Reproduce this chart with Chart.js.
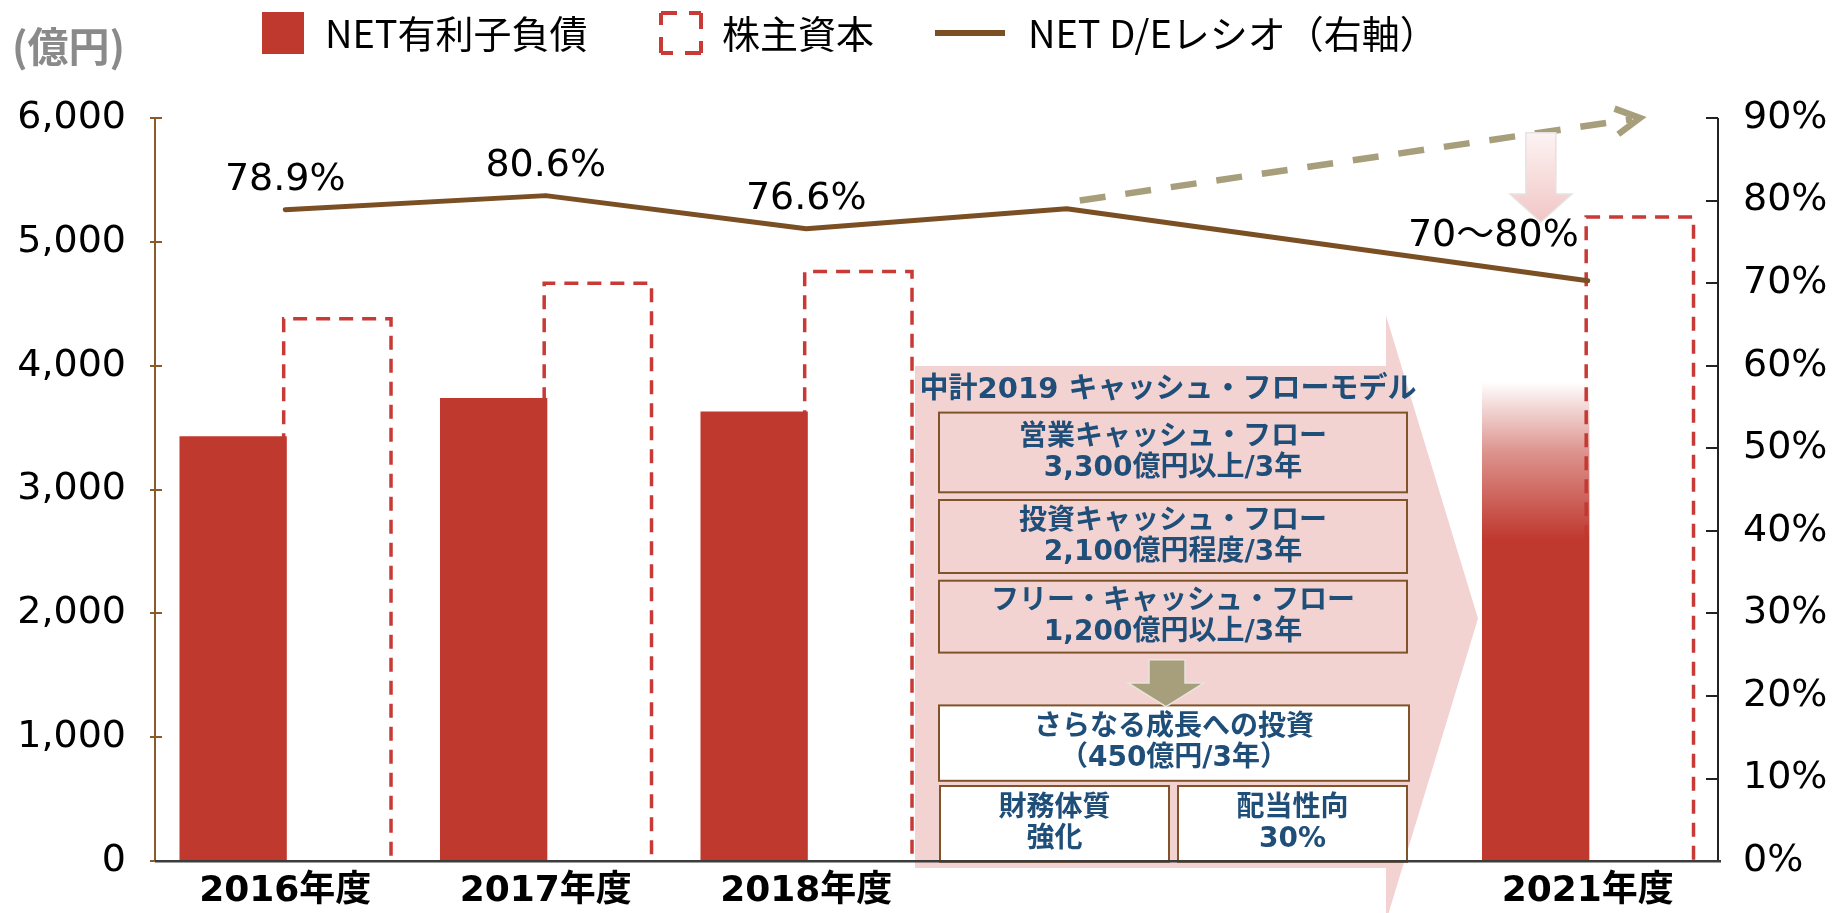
<!DOCTYPE html>
<html lang="ja">
<head>
<meta charset="utf-8">
<title>NET有利子負債・株主資本・NET D/Eレシオ</title>
<script src="https://cdn.jsdelivr.net/npm/chart.js"></script>
<style>
  html, body { margin: 0; padding: 0; background: #fff; }
  #wrap { width: 1833px; height: 913px; }
</style>
</head>
<body>
<div id="wrap"><canvas id="myChart" width="1833" height="913"></canvas></div>
<script>
const categories = ["2016年度", "2017年度", "2018年度", "", "", "2021年度"];
const netDebt = [3430, 3740, 3630, null, null, 3870];
const equity = [4380, 4665, 4760, null, null, 5200];
const deRatio = [78.9, 80.6, 76.6, 79.0, null, 70.3];
const deLabels = ["78.9%", "80.6%", "76.6%", "", "", "70～80%"];
const seriesNames = ["NET有利子負債", "株主資本", "NET D/Eレシオ（右軸）"];
const leftTicks = [0, 1000, 2000, 3000, 4000, 5000, 6000];
const rightTicks = [0, 10, 20, 30, 40, 50, 60, 70, 80, 90];

// the 2021 bar fades out between these two values
const fadeRange = [3870, 2600];
// dashed trend arrow, [category index, ratio %]
const trendFrom = [3.05, 80];
const trendTo = [5.2, 90];
// small pink arrow over 2021, [category index, top %, tip %]
const targetArrow = [4.82, 88.2, 77.4];

const panelTitle = "中計2019 キャッシュ・フローモデル";
const panelBoxes = [
  ["営業キャッシュ・フロー", "3,300億円以上/3年"],
  ["投資キャッシュ・フロー", "2,100億円程度/3年"],
  ["フリー・キャッシュ・フロー", "1,200億円以上/3年"],
  ["さらなる成長への投資", "（450億円/3年）"],
  ["財務体質", "強化"],
  ["配当性向", "30%"]
];

const RED = "#c0392f";
const DASH_RED = "#c83a35";
const BROWN = "#7b4f24";
const KHAKI = "#a79e7c";
const PINK = "#f2d3d2";
const NAVY = "#1f4e79";
const BOX_LINE = "#80532a";
const NUM_FONT = '"DejaVu Sans", "Noto Sans CJK JP", sans-serif';
const JP_FONT = '"Noto Sans CJK JP", sans-serif';

let myChart;

const fadeFill = (ctx) => {
  const chart = ctx.chart;
  if (ctx.dataIndex !== 5 || !chart.chartArea) return RED;
  const y = chart.scales.y;
  const g = chart.ctx.createLinearGradient(0, y.getPixelForValue(fadeRange[0]), 0, y.getPixelForValue(fadeRange[1]));
  g.addColorStop(0, "rgba(192,57,47,0)");
  g.addColorStop(0.45, "rgba(192,57,47,0.55)");
  g.addColorStop(1, "rgba(192,57,47,1)");
  return g;
};

const drawPanel = (ctx) => {
  // big pink chevron arrow
  const p = { left: 915, right: 1386, top: 366, bottom: 868, headTop: 315.6, tipX: 1478, tipY: 618.6 };
  ctx.save();
  ctx.fillStyle = PINK;
  ctx.beginPath();
  ctx.moveTo(p.left, p.top);
  ctx.lineTo(p.right, p.top);
  ctx.lineTo(p.right, p.headTop);
  ctx.lineTo(p.tipX, p.tipY);
  ctx.lineTo(p.right, 2 * p.tipY - p.headTop);
  ctx.lineTo(p.right, p.bottom);
  ctx.lineTo(p.left, p.bottom);
  ctx.closePath();
  ctx.fill();
  ctx.restore();
};

const drawPanelText = (ctx) => {
  const rects = [
    [939, 412.6, 1407, 492.3, null],
    [939, 500, 1407, 573, null],
    [939, 580.7, 1407, 652.6, null],
    [939, 705.4, 1409, 780.8, "#fff"],
    [940, 786, 1169, 861.8, "#fff"],
    [1178, 786, 1407, 861.8, "#fff"]
  ];
  ctx.save();
  ctx.fillStyle = NAVY;
  ctx.textAlign = "center";
  ctx.textBaseline = "middle";
  ctx.font = "bold 29px " + NUM_FONT;
  ctx.fillText(panelTitle, 1168, 390);

  ctx.font = "bold 28px " + NUM_FONT;
  rects.forEach((r, i) => {
    if (r[4]) {
      ctx.fillStyle = r[4];
      ctx.fillRect(r[0], r[1], r[2] - r[0], r[3] - r[1]);
    }
    ctx.strokeStyle = BOX_LINE;
    ctx.lineWidth = 2;
    ctx.strokeRect(r[0], r[1], r[2] - r[0], r[3] - r[1]);
    const cx = (r[0] + r[2]) / 2;
    const cy = (r[1] + r[3]) / 2;
    ctx.fillStyle = NAVY;
    ctx.fillText(panelBoxes[i][0], cx, cy - 15);
    ctx.fillText(panelBoxes[i][1], cx, cy + 16);
  });

  // small khaki down arrow
  ctx.fillStyle = KHAKI;
  ctx.strokeStyle = "#e9e4dc";
  ctx.lineWidth = 1.5;
  ctx.beginPath();
  ctx.moveTo(1149, 659.7);
  ctx.lineTo(1185, 659.7);
  ctx.lineTo(1185, 683);
  ctx.lineTo(1204, 683);
  ctx.lineTo(1166, 706.6);
  ctx.lineTo(1128, 683);
  ctx.lineTo(1149, 683);
  ctx.closePath();
  ctx.fill();
  ctx.stroke();
  ctx.restore();
};

const drawDashedBars = (chart) => {
  const ctx = chart.ctx;
  const meta = chart.getDatasetMeta(1);
  ctx.save();
  ctx.strokeStyle = DASH_RED;
  ctx.lineWidth = 3.5;
  ctx.setLineDash([14, 9]);
  meta.data.forEach((el, i) => {
    if (equity[i] === null) return;
    const left = el.x - el.width / 2;
    const right = el.x + el.width / 2;
    ctx.beginPath();
    ctx.moveTo(left, el.base);
    ctx.lineTo(left, el.y);
    ctx.lineTo(right, el.y);
    ctx.lineTo(right, el.base);
    ctx.stroke();
  });
  ctx.restore();
};

const drawAxes = (chart) => {
  const ctx = chart.ctx;
  const area = chart.chartArea;
  const y = chart.scales.y;
  const y1 = chart.scales.y1;
  ctx.save();
  ctx.lineWidth = 2;
  ctx.strokeStyle = "#8b5a2b";
  ctx.beginPath();
  ctx.moveTo(area.left, area.top);
  ctx.lineTo(area.left, area.bottom);
  leftTicks.forEach((v) => {
    const py = Math.round(y.getPixelForValue(v));
    ctx.moveTo(area.left - 5, py);
    ctx.lineTo(area.left + 7, py);
  });
  ctx.stroke();

  ctx.strokeStyle = "#222";
  ctx.beginPath();
  ctx.moveTo(area.right, area.top);
  ctx.lineTo(area.right, area.bottom);
  rightTicks.forEach((v) => {
    const py = Math.round(y1.getPixelForValue(v));
    ctx.moveTo(area.right - 12, py);
    ctx.lineTo(area.right, py);
  });
  ctx.stroke();

  ctx.strokeStyle = "#3c3c3c";
  ctx.lineWidth = 2.5;
  ctx.beginPath();
  ctx.moveTo(area.left, area.bottom);
  ctx.lineTo(area.right + 3, area.bottom);
  ctx.stroke();
  ctx.restore();
};

const drawRatioLabels = (chart) => {
  const ctx = chart.ctx;
  const meta = chart.getDatasetMeta(2);
  ctx.save();
  ctx.fillStyle = "#000";
  ctx.font = "38px " + NUM_FONT;
  ctx.textBaseline = "alphabetic";
  meta.data.forEach((pt, i) => {
    if (!deLabels[i] || deRatio[i] === null) return;
    if (i === 5) {
      ctx.textAlign = "right";
      ctx.fillText(deLabels[i], pt.x - 9, pt.y - 35);
    } else {
      ctx.textAlign = "center";
      ctx.fillText(deLabels[i], pt.x, pt.y - 20);
    }
  });
  ctx.restore();
};

const drawTrendArrows = (chart) => {
  const ctx = chart.ctx;
  const x = chart.scales.x;
  const y1 = chart.scales.y1;
  const x0 = x.getPixelForValue(trendFrom[0]);
  const yA = y1.getPixelForValue(trendFrom[1]);
  const x1 = x.getPixelForValue(trendTo[0]);
  const yB = y1.getPixelForValue(trendTo[1]);
  const ang = Math.atan2(yB - yA, x1 - x0);
  ctx.save();
  ctx.strokeStyle = KHAKI;
  ctx.lineWidth = 6.5;
  ctx.setLineDash([26, 20]);
  ctx.beginPath();
  ctx.moveTo(x0, yA);
  ctx.lineTo(x1 - 8 * Math.cos(ang), yB - 8 * Math.sin(ang));
  ctx.stroke();
  ctx.setLineDash([]);
  ctx.lineJoin = "miter";
  ctx.beginPath();
  ctx.moveTo(x1 - 27 * Math.cos(ang - 0.5), yB - 27 * Math.sin(ang - 0.5));
  ctx.lineTo(x1, yB);
  ctx.lineTo(x1 - 27 * Math.cos(ang + 0.5), yB - 27 * Math.sin(ang + 0.5));
  ctx.stroke();

  // pink arrow pointing down to the 2021 target
  const cx = x.getPixelForValue(targetArrow[0]);
  const top = y1.getPixelForValue(targetArrow[1]);
  const tip = y1.getPixelForValue(targetArrow[2]);
  const neck = tip - 28;
  const g = ctx.createLinearGradient(0, top, 0, tip);
  g.addColorStop(0, "#fdf3f3");
  g.addColorStop(1, "#f1c6c5");
  ctx.fillStyle = g;
  ctx.strokeStyle = "#e6e2e2";
  ctx.lineWidth = 1.5;
  ctx.beginPath();
  ctx.moveTo(cx - 15, top);
  ctx.lineTo(cx + 15, top);
  ctx.lineTo(cx + 15, neck);
  ctx.lineTo(cx + 31, neck);
  ctx.lineTo(cx, tip);
  ctx.lineTo(cx - 31, neck);
  ctx.lineTo(cx - 15, neck);
  ctx.closePath();
  ctx.fill();
  ctx.stroke();
  ctx.restore();
};

const drawLegend = (chart) => {
  const ctx = chart.ctx;
  const ds = chart.data.datasets;
  ctx.save();
  ctx.textBaseline = "middle";
  ctx.font = "bold 41px " + JP_FONT;
  ctx.fillStyle = "#8a8a8a";
  ctx.textAlign = "left";
  ctx.fillText("(億円)", 12, 46);

  ctx.font = "38px " + JP_FONT;
  // filled box
  ctx.fillStyle = RED;
  ctx.fillRect(262, 12, 42, 42);
  ctx.fillStyle = "#000";
  ctx.fillText(ds[0].label, 325, 34);
  // dashed box, each side drawn from its corner
  ctx.strokeStyle = DASH_RED;
  ctx.lineWidth = 4;
  ctx.setLineDash([16, 12]);
  const bx = 661, by = 13, bs = 40;
  [[bx, by, bx + bs, by], [bx + bs, by, bx + bs, by + bs], [bx + bs, by + bs, bx, by + bs], [bx, by + bs, bx, by]]
    .forEach((s) => {
      ctx.beginPath();
      ctx.moveTo(s[0], s[1]);
      ctx.lineTo(s[2], s[3]);
      ctx.stroke();
    });
  ctx.setLineDash([]);
  ctx.fillText(ds[1].label, 722, 34);
  // line
  ctx.strokeStyle = BROWN;
  ctx.lineWidth = 6;
  ctx.beginPath();
  ctx.moveTo(935, 33);
  ctx.lineTo(1005, 33);
  ctx.stroke();
  ctx.fillText(ds[2].label, 1028, 34);
  ctx.restore();
};

const decorPlugin = {
  id: "decor",
  beforeDatasetsDraw(chart) {
    drawPanel(chart.ctx);
    drawDashedBars(chart);
  },
  afterDatasetsDraw(chart) {
    drawPanelText(chart.ctx);
    drawRatioLabels(chart);
    drawTrendArrows(chart);
    drawAxes(chart);
  },
  afterDraw(chart) {
    drawLegend(chart);
  }
};

const displayChart = () => {
  const ctx = document.getElementById("myChart").getContext("2d");
  myChart = new Chart(ctx, {
    type: "bar",
    data: {
      labels: categories,
      datasets: [
        {
          label: seriesNames[0],
          data: netDebt,
          backgroundColor: fadeFill,
          borderWidth: 0,
          yAxisID: "y",
          order: 1
        },
        {
          label: seriesNames[1],
          data: equity,
          backgroundColor: "rgba(0,0,0,0)",
          borderWidth: 0,
          yAxisID: "y",
          order: 2
        },
        {
          type: "line",
          label: seriesNames[2],
          data: deRatio,
          borderColor: BROWN,
          borderWidth: 5,
          borderCapStyle: "round",
          borderJoinStyle: "round",
          pointRadius: 0,
          tension: 0,
          spanGaps: true,
          yAxisID: "y1",
          order: 0
        }
      ]
    },
    options: {
      responsive: false,
      devicePixelRatio: 1,
      animation: false,
      categoryPercentage: 0.8,
      barPercentage: 1.03,
      layout: { padding: { top: 118, left: 0, right: 0, bottom: 0 } },
      plugins: {
        legend: { display: false },
        tooltip: { enabled: false }
      },
      scales: {
        x: {
          grid: { display: false, drawTicks: false },
          border: { display: false },
          ticks: {
            autoSkip: false,
            maxRotation: 0,
            padding: 9,
            color: "#000",
            font: { family: NUM_FONT, size: 36, weight: "bold" }
          },
          afterFit: (s) => { s.height = 47; }
        },
        y: {
          position: "left",
          min: 0,
          max: 6000,
          grid: { display: false, drawTicks: false },
          border: { display: false },
          ticks: {
            stepSize: 1000,
            padding: 29,
            color: "#000",
            font: { family: NUM_FONT, size: 38 },
            callback: (v) => v.toLocaleString("en-US")
          },
          afterFit: (s) => { s.width = 155; }
        },
        y1: {
          position: "right",
          min: 0,
          max: 90,
          grid: { display: false, drawTicks: false },
          border: { display: false },
          ticks: {
            stepSize: 10,
            padding: 25,
            color: "#000",
            font: { family: NUM_FONT, size: 38 },
            callback: (v) => v + "%"
          },
          afterFit: (s) => { s.width = 115; }
        }
      }
    },
    plugins: [decorPlugin]
  });
};

displayChart();
</script>
</body>
</html>
